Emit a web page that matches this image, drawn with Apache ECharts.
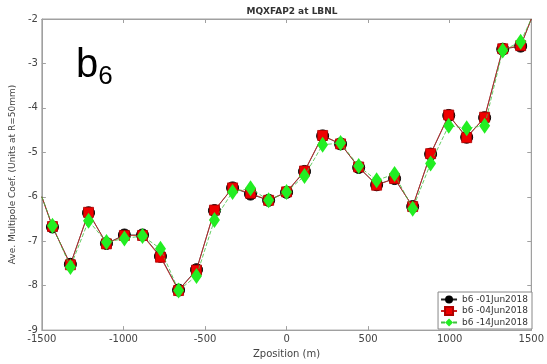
<!DOCTYPE html>
<html><head><meta charset="utf-8">
<script src="https://cdn.jsdelivr.net/npm/echarts@6/dist/echarts.min.js"></script>
<style>html,body{margin:0;padding:0;background:#fff}#c{width:547px;height:364px}</style>
</head><body><div id="c"></div>
<script>
const zpos = [-1435,-1325,-1214,-1104,-994,-883,-773,-662,-552,-442,-331,-221,-110,0,110,221,331,442,552,662,773,883,994,1104,1214,1325,1435];
const b6_01Jun = [-6.68,-7.52,-6.36,-7.05,-6.86,-6.86,-7.34,-8.10,-7.64,-6.31,-5.80,-5.94,-6.08,-5.90,-5.43,-4.63,-4.81,-5.34,-5.73,-5.59,-6.22,-5.04,-4.17,-4.66,-4.22,-2.68,-2.61];
const b6_04Jun = [-6.67,-7.53,-6.35,-7.06,-6.87,-6.87,-7.36,-8.11,-7.65,-6.30,-5.80,-5.92,-6.08,-5.89,-5.42,-4.62,-4.81,-5.33,-5.74,-5.59,-6.22,-5.03,-4.16,-4.67,-4.21,-2.67,-2.60];
const b6_14Jun = [-6.65,-7.58,-6.54,-7.02,-6.94,-6.88,-7.17,-8.11,-7.78,-6.52,-5.89,-5.81,-6.08,-5.89,-5.53,-4.83,-4.79,-5.31,-5.63,-5.49,-6.27,-5.25,-4.40,-4.46,-4.40,-2.71,-2.51];
const leftEnd = [-1500, -6.0];
const rightEnd = [1500, -2.0];
const seriesNames = ['b6 -01Jun2018','b6 -04Jun2018','b6 -14Jun2018'];
const xTicks = [-1500, 1500, 500];
const yTicks = [-9, -2, 1];

function build(vals){
  const d = [{value: leftEnd, symbol:'none'}];
  zpos.forEach((x,i)=>d.push([x, vals[i]]));
  d.push({value: rightEnd, symbol:'none'});
  return d;
}
const chart = echarts.init(document.getElementById('c'));
const axisCol = '#a0a0a0';
const lblCol = '#444';
const font = 'DejaVu Sans';
const plain = v => String(v);
chart.setOption({
  animation:false,
  backgroundColor:'#fff',
  title:{text:'MQXFAP2 at LBNL', left:287, top:2, textAlign:'center',
    textStyle:{fontSize:9, fontWeight:'bold', color:'#333', fontFamily:font}},
  grid:{left:39, right:11, top:19, bottom:31, show:true, borderColor:axisCol, borderWidth:1},
  legend:{
    orient:'vertical', right:15, bottom:35, itemWidth:16, itemHeight:10, itemGap:2,
    padding:[3,4,2,2], borderColor:'#888', borderWidth:1, backgroundColor:'#fff',
    textStyle:{fontSize:9, color:'#333', fontFamily:font},
    data:seriesNames
  },
  xAxis:[{type:'value', min:xTicks[0], max:xTicks[1], interval:xTicks[2],
    name:'Zposition (m)', nameLocation:'middle', nameGap:15,
    nameTextStyle:{fontSize:10, color:lblCol, fontFamily:font},
    axisLine:{onZero:false, lineStyle:{color:axisCol}}, axisTick:{inside:true, length:4, lineStyle:{color:axisCol}},
    axisLabel:{fontSize:10, color:lblCol, margin:4, fontFamily:font, formatter:plain}, splitLine:{show:false}},
    {type:'value', position:'top', min:xTicks[0], max:xTicks[1], interval:xTicks[2],
    axisLine:{onZero:false, lineStyle:{color:axisCol}}, axisTick:{inside:true, length:4, lineStyle:{color:axisCol}},
    axisLabel:{show:false}, splitLine:{show:false}}],
  yAxis:[{type:'value', min:yTicks[0], max:yTicks[1], interval:yTicks[2],
    name:'Ave. Multipole Coef. (Units at R=50mm)', nameLocation:'middle', nameGap:22,
    nameTextStyle:{fontSize:9, color:lblCol, fontFamily:font},
    axisLine:{show:true, onZero:false, lineStyle:{color:axisCol}}, axisTick:{show:true, inside:true, length:4, lineStyle:{color:axisCol}},
    axisLabel:{fontSize:10, color:lblCol, margin:4, fontFamily:font, formatter:plain}, splitLine:{show:false}},
    {type:'value', position:'right', min:yTicks[0], max:yTicks[1], interval:yTicks[2],
    axisLine:{show:true, onZero:false, lineStyle:{color:axisCol}}, axisTick:{show:true, inside:true, length:4, lineStyle:{color:axisCol}},
    axisLabel:{show:false}, splitLine:{show:false}}],
  graphic:[{type:'text', left:76, top:46, style:{
    text:'{b|b}{s|6}', rich:{b:{fontSize:40, fontFamily:'Liberation Sans', fill:'#000'},
      s:{fontSize:26, fontFamily:'Liberation Sans', fill:'#000', padding:[22,0,0,0]}}}}],
  series:[
    {name:seriesNames[0], type:'line', data:build(b6_01Jun), symbol:'circle', symbolSize:12,
      itemStyle:{color:'#000', borderColor:'#000'}, lineStyle:{color:'#222', width:0.8}, z:2},
    {name:seriesNames[1], type:'line', data:build(b6_04Jun), symbol:'rect', symbolSize:10,
      itemStyle:{color:'#ee0000', borderColor:'#b00000', borderWidth:0.8}, lineStyle:{color:'#cc2020', width:0.8}, z:3},
    {name:seriesNames[2], type:'line', data:build(b6_14Jun), symbol:'diamond', symbolSize:[11,16],
      itemStyle:{color:'#22ee22'}, lineStyle:{color:'#40c040', width:0.8, type:[4,2]}, z:4}
  ]
});
</script></body></html>
